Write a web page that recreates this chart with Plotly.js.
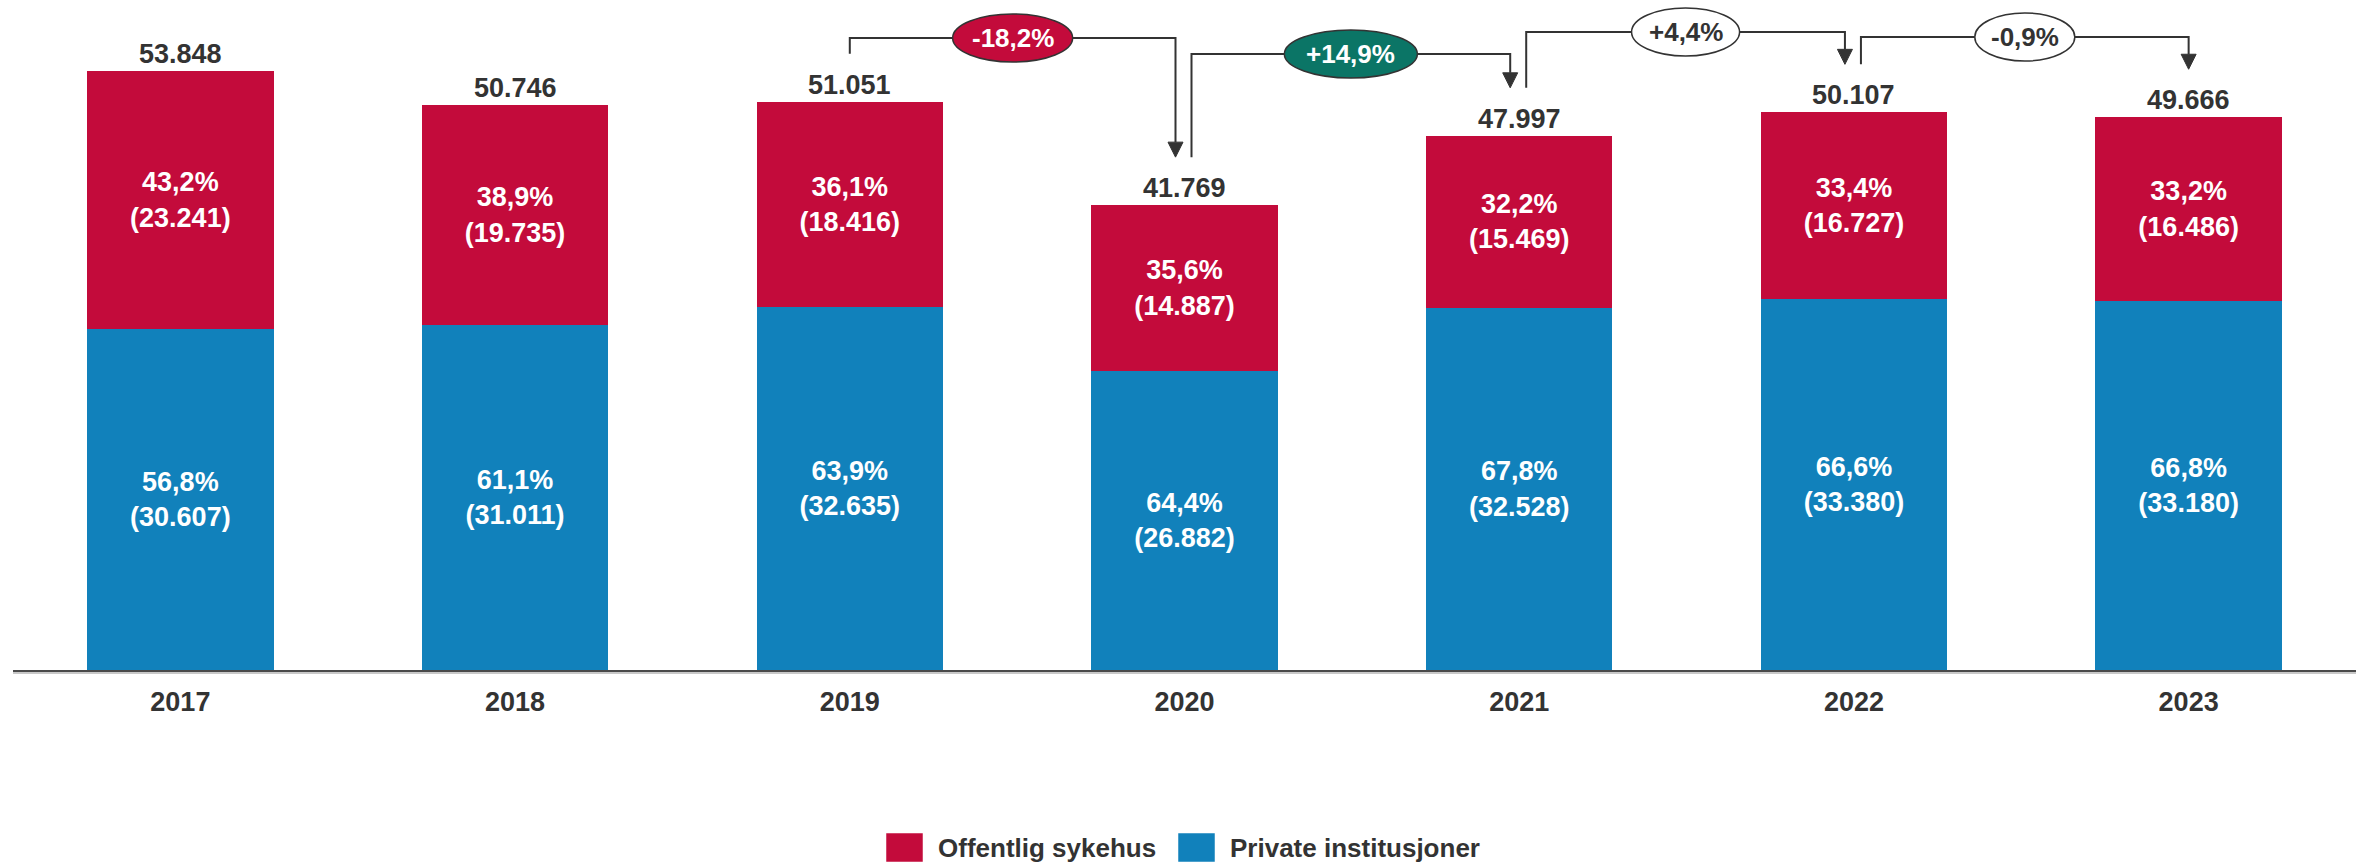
<!DOCTYPE html>
<html><head><meta charset="utf-8">
<script src="https://cdn.plot.ly/plotly-3.0.1.min.js"></script>
<style>html,body{margin:0;padding:0;background:#fff}#chart{width:2359px;height:867px}</style>
</head><body><div id="chart"></div>
<script>
// ---- data ----
const years = ['2017','2018','2019','2020','2021','2022','2023'];
const offentlig = [23241,19735,18416,14887,15469,16727,16486];
const privat = [30607,31011,32635,26882,32528,33380,33180];
const totals = [53848,50746,51051,41769,47997,50107,49666];
const pctOffentlig = ['43,2','38,9','36,1','35,6','32,2','33,4','33,2'];
const pctPrivat = ['56,8','61,1','63,9','64,4','67,8','66,6','66,8'];
const changeFrom = ['2019','2020','2021','2022'];
const changeTo = ['2020','2021','2022','2023'];
const changeLabels = ['-18,2%','+14,9%','+4,4%','-0,9%'];
const seriesNames = ['Offentlig sykehus','Private institusjoner'];

// ---- style / layout constants ----
const W = 2359, H = 867, ML = 13, MR = 3, MT = 0, MB = 197;
const plotW = W - ML - MR, plotH = H - MT - MB;
const YMAX = 60200;
const RED = '#c30b3b', BLUE = '#1181bb', TEAL = '#0b7566', DARK = '#333333';
const FONT = 'Liberation Sans, Arial, Helvetica, sans-serif';
const pxX = (7) / plotW;          // x units per pixel
const pxY = YMAX / plotH;         // y units per pixel
const bracketLevelPx = [38, 54, 32, 37];   // px from top
const ellipseW = [120, 133, 108, 100];
const ellipseH = 48;
const ellipseFill = [RED, TEAL, '#ffffff', '#ffffff'];
const ellipseText = ['#ffffff', '#ffffff', DARK, DARK];

const fmt = n => String(n).replace(/\B(?=(\d{3})+(?!\d))/g, '.');
const idx = years.map((_, i) => i);

const traces = [
  {
    type: 'bar', name: seriesNames[1], x: idx, y: privat,
    marker: {color: BLUE, line: {width: 0}},
    text: privat.map((v, i) => pctPrivat[i] + '%<br>(' + fmt(v) + ')'),
    textposition: 'inside', insidetextanchor: 'middle', textangle: 0,
    textfont: {color: '#ffffff', size: 27, family: FONT, weight: 'bold'},
    hoverinfo: 'skip'
  },
  {
    type: 'bar', name: seriesNames[0], x: idx, y: offentlig,
    marker: {color: RED, line: {width: 0}},
    text: offentlig.map((v, i) => pctOffentlig[i] + '%<br>(' + fmt(v) + ')'),
    textposition: 'inside', insidetextanchor: 'middle', textangle: 0,
    textfont: {color: '#ffffff', size: 27, family: FONT, weight: 'bold'},
    hoverinfo: 'skip'
  }
];

const annotations = [];
const shapes = [];

// totals above bars
totals.forEach((t, i) => {
  annotations.push({
    x: i, y: t, xref: 'x', yref: 'y', text: fmt(t), showarrow: false,
    yanchor: 'bottom', yshift: 0,
    font: {size: 27, color: DARK, family: FONT, weight: 'bold'}
  });
});

// change brackets
const hasOut = i => changeFrom.indexOf(years[i]) >= 0;
const hasIn = i => changeTo.indexOf(years[i]) >= 0;
changeFrom.forEach((f, k) => {
  const a = years.indexOf(f), b = years.indexOf(changeTo[k]);
  const xs = a + (hasIn(a) ? 7 : 0) * pxX;
  const xe = b + (hasOut(b) ? -9 : 0) * pxX;
  const ys = totals[a] + 48 * pxY;
  const yt = totals[b] + 48 * pxY;
  const lv = (plotH - bracketLevelPx[k]) * pxY;
  const yb = yt + 15 * pxY;
  shapes.push({type: 'path', xref: 'x', yref: 'y',
    path: `M ${xs},${ys} L ${xs},${lv} L ${xe},${lv} L ${xe},${yb}`,
    line: {color: DARK, width: 2}});
  shapes.push({type: 'path', xref: 'x', yref: 'y',
    path: `M ${xe - 7.5 * pxX},${yb} L ${xe + 7.5 * pxX},${yb} L ${xe},${yt} Z`,
    fillcolor: DARK, line: {color: DARK, width: 1}});
  const cx = (xs + xe) / 2;
  shapes.push({type: 'circle', xref: 'x', yref: 'y',
    x0: cx - ellipseW[k] / 2 * pxX, x1: cx + ellipseW[k] / 2 * pxX,
    y0: lv - ellipseH / 2 * pxY, y1: lv + ellipseH / 2 * pxY,
    fillcolor: ellipseFill[k], line: {color: DARK, width: 1.5}});
  annotations.push({x: cx, y: lv, xref: 'x', yref: 'y', text: changeLabels[k],
    showarrow: false, font: {size: 26, color: ellipseText[k], family: FONT, weight: 'bold'}});
});

// axis shadow line
shapes.push({type: 'line', xref: 'paper', yref: 'paper', x0: 0, x1: 1,
  y0: -3 / plotH, y1: -3 / plotH, line: {color: '#c8c8c8', width: 2}, layer: 'below'});

// custom legend
const px2x = p => (p - ML) / plotW;
const px2y = p => (plotH + MT - p) / plotH;
const legendItems = [
  {name: seriesNames[0], color: RED, x0: 886, x1: 923, tx: 936},
  {name: seriesNames[1], color: BLUE, x0: 1178, x1: 1215, tx: 1228}
];
legendItems.forEach(it => {
  shapes.push({type: 'rect', xref: 'paper', yref: 'paper',
    x0: px2x(it.x0), x1: px2x(it.x1), y0: px2y(862), y1: px2y(833),
    fillcolor: it.color, line: {color: 'rgba(255,255,255,0.5)', width: 1}});
  annotations.push({xref: 'paper', yref: 'paper', x: px2x(it.tx), y: px2y(848),
    xanchor: 'left', yanchor: 'middle', text: it.name, showarrow: false,
    font: {size: 26, color: DARK, family: FONT, weight: 'bold'}});
});

const layout = {
  width: W, height: H,
  margin: {l: ML, r: MR, t: MT, b: MB, pad: 0},
  paper_bgcolor: '#ffffff', plot_bgcolor: '#ffffff',
  font: {family: FONT, color: DARK},
  barmode: 'stack', bargap: 0.443,
  showlegend: false,
  xaxis: {
    range: [-0.5, 6.5], tickmode: 'array', tickvals: idx, ticktext: years,
    showline: true, linecolor: '#4a4a4a', linewidth: 2, ticks: '',
    showgrid: false, zeroline: false, ticklabelstandoff: 7,
    tickfont: {size: 27, color: DARK, family: FONT, weight: 'bold'}
  },
  yaxis: {range: [0, YMAX], visible: false, showgrid: false, zeroline: false},
  annotations: annotations,
  shapes: shapes
};

Plotly.newPlot('chart', traces, layout, {displayModeBar: false, staticPlot: true});
</script>
</body></html>
